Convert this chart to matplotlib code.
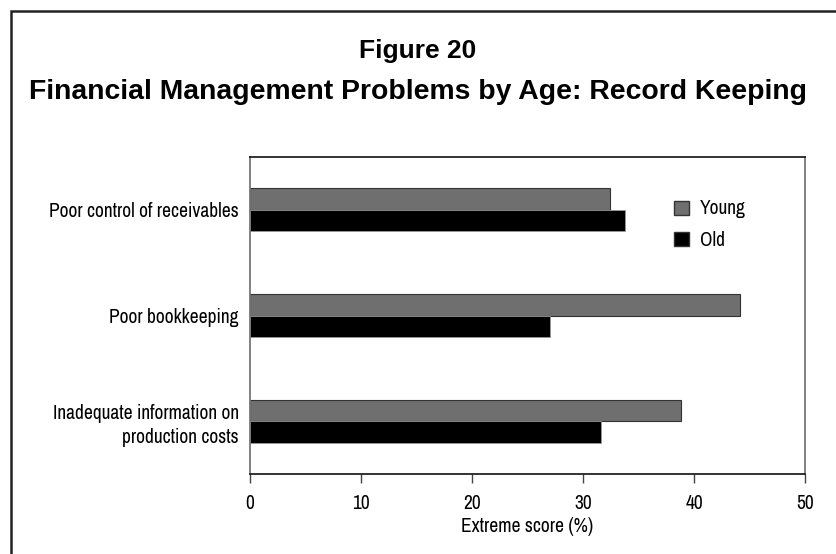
import matplotlib
matplotlib.use("Agg")
import matplotlib.pyplot as plt
from matplotlib import font_manager
from matplotlib.patches import Rectangle, Patch
import numpy as np

# data
categories = ["Poor control of receivables", "Poor bookkeeping",
              "Inadequate information on\nproduction costs"]
young = [32.4, 44.1, 38.8]
old = [33.8, 27.0, 31.6]
x_ticks = [0, 10, 20, 30, 40, 50]

# pick a narrow sans for the labels if one is installed
names = {f.name for f in font_manager.fontManager.ttflist}
narrow = "Liberation Sans"
for cand in ["Liberation Sans Narrow", "Arial Narrow", "Archivo Narrow", "Roboto Condensed"]:
    if cand in names:
        narrow = cand
        break
plt.rcParams["font.family"] = [narrow, "DejaVu Sans"]
fs = 14 if narrow != "Liberation Sans" else 11.5

fig = plt.figure(figsize=(8.36, 5.54), dpi=100)
W, H = 836, 554

# outer frame (right/bottom edges fall outside the picture)
fig.patches.append(Rectangle((11 / W, -0.1), 1.2, 1 - 11 / H + 0.1,
                             transform=fig.transFigure, fill=False,
                             edgecolor="#222222", linewidth=1.8))

ax = fig.add_axes([250 / W, 1 - 474 / H, 555 / W, 317 / H])

y = np.arange(len(categories))
h = 0.205
ax.barh(y - h / 2, young, height=h, color="#6f6f6f", edgecolor="#333333",
        linewidth=0.8, label="Young")
ax.barh(y + h / 2, old, height=h, color="#000000", edgecolor="#999999",
        linewidth=0.6, label="Old")

ax.set_ylim(2.5, -0.5)
ax.set_xlim(0, 50)
ax.set_xticks(x_ticks)
ax.set_yticks(y)
ax.set_yticklabels(categories, fontsize=fs, linespacing=1.3)
ax.tick_params(axis="y", length=0, pad=8)
ax.tick_params(axis="x", length=6.5, width=1, color="#444444",
               labelsize=fs, pad=8)
ax.set_xlabel("Extreme score (%)", fontsize=fs, labelpad=2.5)
for s in ["left", "right"]:
    ax.spines[s].set_color("#777777")
    ax.spines[s].set_linewidth(1.3)
for s in ["top", "bottom"]:
    ax.spines[s].set_color("#111111")
    ax.spines[s].set_linewidth(1.2)

handles = [Patch(facecolor="#6f6f6f", edgecolor="#333333", label="Young"),
           Patch(facecolor="#000000", edgecolor="#333333", label="Old")]
ax.legend(handles=handles, loc="upper left", bbox_to_anchor=(0.764, 0.866),
          frameon=False, fontsize=fs, handlelength=0.75, handleheight=0.75,
          labelspacing=0.65, handletextpad=0.6, borderpad=0, borderaxespad=0)

title_font = ["Liberation Sans", "DejaVu Sans"]
fig.text(0.5, 1 - 58 / H, "Figure 20", ha="center", va="baseline",
         fontsize=19, fontweight="bold", family=title_font)
fig.text(0.5, 1 - 99 / H, "Financial Management Problems by Age: Record Keeping",
         ha="center", va="baseline", fontsize=20.4, fontweight="bold",
         family=title_font)

fig.savefig("out.png", dpi=100)
